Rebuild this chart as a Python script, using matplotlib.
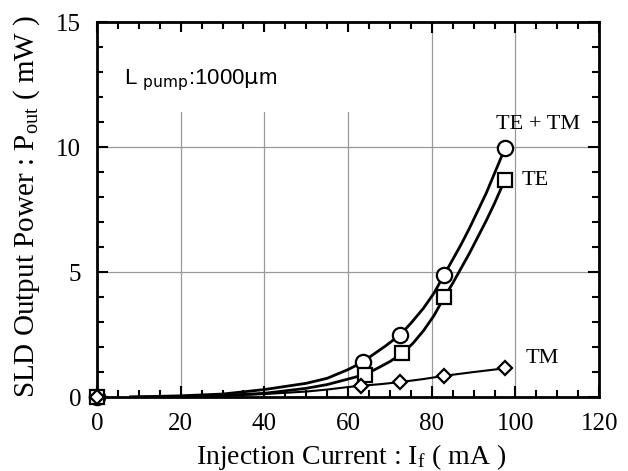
import numpy as np
import matplotlib
matplotlib.use("Agg")
import matplotlib.pyplot as plt
from matplotlib.patches import Rectangle
from matplotlib.ticker import MultipleLocator

plt.rcParams['font.family'] = 'Liberation Serif'
plt.rcParams['mathtext.fontset'] = 'custom'
plt.rcParams['mathtext.rm'] = 'Liberation Serif'
plt.rcParams['mathtext.it'] = 'Liberation Serif:italic'

# measured points (markers)
cur_tetm = [0, 63.5, 72.5, 83, 97.5]
pow_tetm = [0, 1.4, 2.5, 4.9, 9.95]
cur_te = [0, 64, 73, 83, 97.5]
pow_te = [0, 0.9, 1.75, 4.0, 8.7]
cur_tm = [0, 63, 72.5, 83, 97.5]
pow_tm = [0, 0.45, 0.6, 0.85, 1.15]

# continuous curves
line_x_tetm = [8, 20, 30, 40, 50, 55, 60, 63.5, 66, 69, 72.5, 75, 78, 80.5, 83, 85, 87, 89, 91, 93, 95, 97.5]
line_y_tetm = [0, 0.05, 0.12, 0.3, 0.55, 0.75, 1.1, 1.4, 1.7, 2.05, 2.5, 2.95, 3.55, 4.15, 4.9, 5.5, 6.1, 6.75, 7.45, 8.15, 8.95, 9.95]
line_x_te = [8, 20, 30, 40, 50, 55, 60, 64, 67, 70, 73, 75.5, 78, 80.5, 83, 85, 87, 89, 91, 93, 95, 97.5]
line_y_te = [0, 0.02, 0.06, 0.15, 0.35, 0.5, 0.72, 0.9, 1.15, 1.42, 1.75, 2.15, 2.65, 3.25, 4.0, 4.55, 5.15, 5.75, 6.4, 7.05, 7.75, 8.7]
line_x_tm = [8, 20, 30, 40, 50, 55, 60, 63, 68, 72.5, 78, 83, 90, 97.5]
line_y_tm = [0, 0.02, 0.05, 0.12, 0.22, 0.3, 0.4, 0.45, 0.52, 0.6, 0.72, 0.85, 1.0, 1.15]

fig = plt.figure(figsize=(6.28, 4.71), dpi=100)
ax = fig.add_axes([0.1545, 0.157, 0.7995, 0.796])

ax.set_xlim(0, 120)
ax.set_ylim(0, 15)
ax.xaxis.set_major_locator(MultipleLocator(20))
ax.xaxis.set_minor_locator(MultipleLocator(5))
ax.yaxis.set_major_locator(MultipleLocator(5))
ax.yaxis.set_minor_locator(MultipleLocator(1))
ax.tick_params(which='both', direction='in', top=True, right=True, width=1.5)
ax.tick_params(which='major', length=8, labelsize=18, pad=11.5)
ax.tick_params(which='minor', length=5)
for s in ax.spines.values():
    s.set_linewidth(2)

ax.set_axisbelow(True)
ax.grid(True, which='major', color='#999999', lw=0.9)
# blank area behind the annotation
ax.add_patch(Rectangle((1.5, 11.4), 66, 3.2, facecolor='white', edgecolor='none', zorder=0.7))

ax.plot(line_x_tetm, line_y_tetm, color='black', lw=2, zorder=2)
ax.plot(line_x_te, line_y_te, color='black', lw=2, zorder=2)
ax.plot(line_x_tm, line_y_tm, color='black', lw=1.5, zorder=2)

ax.plot(cur_tetm, pow_tetm, ls='none', marker='o', ms=11, mfc='white', mec='black', mew=1.6, zorder=3, clip_on=False)
ax.plot(cur_te, pow_te, ls='none', marker='s', ms=10, mfc='white', mec='black', mew=1.6, zorder=3, clip_on=False)
ax.plot(cur_tm, pow_tm, ls='none', marker='D', ms=7.5, mfc='white', mec='black', mew=1.6, zorder=3, clip_on=False)

ax.text(105.5, 10.9, 'TE + TM', fontsize=16, ha='center', va='center')
ax.text(101.5, 8.65, 'TE', fontsize=16, ha='left', va='center')
ax.text(102.5, 1.55, 'TM', fontsize=16, ha='left', va='center')
ax.text(6.5, 12.7, r'L $_{\mathrm{pump}}$:1000$\mathrm{\mu}$m', fontsize=16, ha='left', va='center',
        family='Liberation Sans', math_fontfamily='dejavusans')

ax.set_xlabel(r'Injection Current : I$_{\rm f}$ ( mA )', fontsize=20)
ax.set_ylabel(r'SLD Output Power : P$_{\rm out}$ ( mW )', fontsize=21)
ax.xaxis.set_label_coords(0.507, -0.12)
ax.yaxis.set_label_coords(-0.11, 0.508)

fig.savefig('out.png', dpi=100)
